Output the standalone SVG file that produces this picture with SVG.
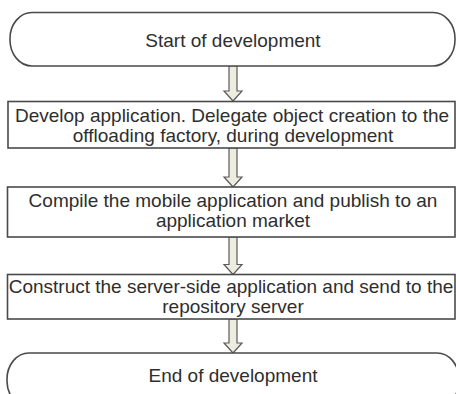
<svg xmlns="http://www.w3.org/2000/svg" width="456" height="394" viewBox="0 0 456 394">
<defs>
<style>
.box{fill:#fff;stroke:#4a4a4a;stroke-width:1.6}
.arr{fill:#ecece0;stroke:#5a5a5a;stroke-width:1.2;stroke-linejoin:miter}
text{font-family:"Liberation Sans",Arial,sans-serif;font-size:19px;fill:#2e2e2e;text-anchor:middle}
</style>
</defs>
<rect width="456" height="394" fill="#fff"/>
<g id="connectors">
<path class="arr" d="M229,66 V91 H224 L233,101 L242,91 H237 V66 Z"/>
<path class="arr" d="M229,148 V177 H224 L233,187 L242,177 H237 V148 Z"/>
<path class="arr" d="M229,237 V264.5 H224 L233,274.5 L242,264.5 H237 V237 Z"/>
<path class="arr" d="M229,319 V343 H224 L233,353 L242,343 H237 V319 Z"/>
</g>
<g id="start">
<rect class="box" x="10" y="12.5" width="445" height="53.5" rx="22" ry="26"/>
<text x="233" y="46.5">Start of development</text>
</g>
<g id="develop">
<rect class="box" x="8" y="101.5" width="447" height="46.5"/>
<text x="232" y="121.5">Develop application. Delegate object creation to the</text>
<text x="233" y="141.5">offloading factory, during development</text>
</g>
<g id="compile">
<rect class="box" x="7.5" y="187" width="447.5" height="50"/>
<text x="233" y="206.5">Compile the mobile application and publish to an</text>
<text x="233" y="226.5">application market</text>
</g>
<g id="construct">
<rect class="box" x="7.5" y="274.5" width="447.5" height="44.5"/>
<text x="231" y="293">Construct the server-side application and send to the</text>
<text x="233" y="313">repository server</text>
</g>
<g id="end">
<rect class="box" x="7" y="353" width="452" height="54" rx="22" ry="26"/>
<text x="233" y="381.5">End of development</text>
</g>
</svg>
